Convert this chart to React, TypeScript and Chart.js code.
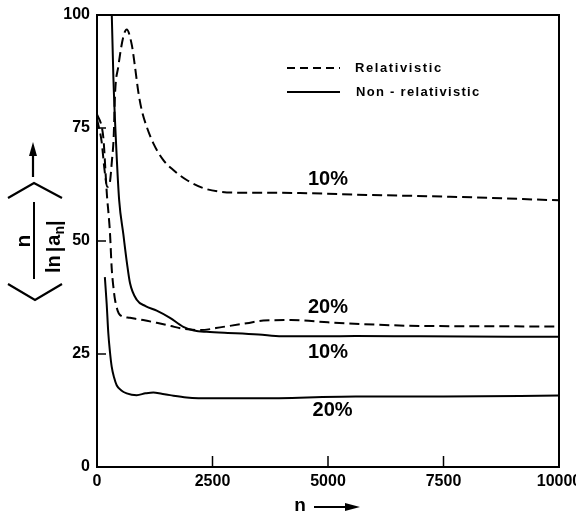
import React, { useEffect, useRef } from "react";
import { Chart, registerables } from "chart.js";

Chart.register(...registerables);

// ---- data (n values, <n/ln|a_n|> values) ----
const relativistic10N = [0, 100, 160, 220, 270, 325, 361, 390, 461, 570, 643, 751, 823, 894, 967, 1075, 1220, 1436, 1652, 1941, 2301, 2662, 3023, 3500, 4394, 5840, 7640, 10000];
const relativistic10Y = [77, 72, 66, 62, 62.5, 68, 73, 82.5, 88.6, 95.2, 96.8, 93.5, 88.5, 83, 79, 75.3, 71.6, 67.9, 65.7, 63.5, 61.7, 60.9, 60.7, 60.7, 60.6, 60.2, 59.8, 59];

const relativistic20N = [0, 108, 145, 180, 216, 250, 281, 318, 353, 390, 450, 500, 714, 1000, 1292, 1600, 1800, 2230, 2730, 3240, 3600, 4200, 5000, 5760, 7060, 10000];
const relativistic20Y = [78, 75, 72, 66, 60, 56, 51.8, 44, 40, 37, 34.5, 33.6, 33, 32.5, 31.9, 31.2, 30.7, 30.3, 31, 31.8, 32.4, 32.5, 32, 31.6, 31.2, 31.1];

const nonRel10N = [280, 320, 355, 420, 480, 570, 650, 714, 860, 1050, 1292, 1580, 1868, 2100, 2374, 3000, 3500, 4000, 4600, 5600, 7000, 10000];
const nonRel10Y = [120, 100, 86, 70, 59, 51.5, 45, 40.7, 37, 35.6, 34.6, 33, 31, 30.2, 29.9, 29.6, 29.3, 28.9, 28.9, 29, 28.9, 28.8];

const nonRel20N = [170, 210, 245, 280, 318, 370, 426, 520, 643, 860, 1050, 1220, 1400, 1580, 1940, 2500, 3500, 5600, 7500, 10000];
const nonRel20Y = [42, 36, 29.6, 25.5, 22.2, 19.8, 18.1, 17, 16.3, 15.9, 16.3, 16.5, 16.2, 15.9, 15.4, 15.2, 15.2, 15.6, 15.6, 15.8];

const xTicks = [0, 2500, 5000, 7500, 10000];
const yTicks = [0, 25, 50, 75, 100];

const curveLabels = ["10%", "20%", "10%", "20%"];
const curveLabelN = [5000, 5000, 5000, 5100];
const curveLabelY = [63.5, 35.3, 25.4, 12.6];

const legendLabels = ["Relativistic", "Non - relativistic"];

const FONT = "'Liberation Sans', Arial, sans-serif";

function pts(xs: number[], ys: number[]) {
  return xs.map((x, i) => ({ x, y: ys[i] }));
}

const framePlugin = {
  id: "framePlugin",
  afterDatasetsDraw(chart: any) {
    const { ctx, chartArea: a, scales } = chart;
    const xs = scales.x;
    const ys = scales.y;
    ctx.save();
    ctx.strokeStyle = "#000";
    ctx.lineWidth = 2;
    ctx.strokeRect(a.left, a.top, a.right - a.left, a.bottom - a.top);
    ctx.lineWidth = 1.5;
    xTicks.forEach((v) => {
      const p = xs.getPixelForValue(v);
      ctx.beginPath();
      ctx.moveTo(p, a.bottom);
      ctx.lineTo(p, a.bottom - 11);
      ctx.stroke();
    });
    yTicks.forEach((v) => {
      const p = ys.getPixelForValue(v);
      ctx.beginPath();
      ctx.moveTo(a.left, p);
      ctx.lineTo(a.left + 9, p);
      ctx.stroke();
    });

    // curve labels
    ctx.fillStyle = "#000";
    ctx.font = `bold 20px ${FONT}`;
    ctx.textAlign = "center";
    ctx.textBaseline = "middle";
    curveLabels.forEach((t, i) => {
      ctx.fillText(t, xs.getPixelForValue(curveLabelN[i]), ys.getPixelForValue(curveLabelY[i]));
    });

    // legend
    const lx0 = 287, lx1 = 340, ly = [68, 92];
    ctx.lineWidth = 2;
    ctx.setLineDash([8, 5]);
    ctx.beginPath();
    ctx.moveTo(lx0, ly[0]);
    ctx.lineTo(lx1, ly[0]);
    ctx.stroke();
    ctx.setLineDash([]);
    ctx.beginPath();
    ctx.moveTo(lx0, ly[1]);
    ctx.lineTo(lx1, ly[1]);
    ctx.stroke();
    ctx.font = `bold 13px ${FONT}`;
    (ctx as any).letterSpacing = "1.6px";
    ctx.textAlign = "left";
    ctx.fillText(legendLabels[0], 355, ly[0]);
    (ctx as any).letterSpacing = "1.3px";
    ctx.fillText(legendLabels[1], 356, ly[1]);
    (ctx as any).letterSpacing = "0px";
    ctx.restore();
  },
  afterDraw(chart: any) {
    const { ctx } = chart;
    ctx.save();
    ctx.fillStyle = "#000";
    ctx.strokeStyle = "#000";
    // x axis title: n ->
    ctx.font = `bold 19px ${FONT}`;
    ctx.textAlign = "center";
    ctx.textBaseline = "middle";
    ctx.fillText("n", 300, 506);
    ctx.lineWidth = 2;
    ctx.beginPath();
    ctx.moveTo(314, 507);
    ctx.lineTo(348, 507);
    ctx.stroke();
    ctx.beginPath();
    ctx.moveTo(360, 507);
    ctx.lineTo(345, 503);
    ctx.lineTo(345, 511);
    ctx.closePath();
    ctx.fill();

    // y axis title (rotated fraction with angle brackets)
    ctx.lineWidth = 2.2;
    ctx.beginPath();
    ctx.moveTo(33, 177);
    ctx.lineTo(33, 152);
    ctx.stroke();
    ctx.beginPath();
    ctx.moveTo(33, 142);
    ctx.lineTo(29, 156);
    ctx.lineTo(37, 156);
    ctx.closePath();
    ctx.fill();
    ctx.beginPath();
    ctx.moveTo(8, 198);
    ctx.lineTo(34, 183);
    ctx.lineTo(62, 198);
    ctx.stroke();
    ctx.beginPath();
    ctx.moveTo(8, 284);
    ctx.lineTo(35, 300);
    ctx.lineTo(62, 284);
    ctx.stroke();
    ctx.lineWidth = 2;
    ctx.beginPath();
    ctx.moveTo(34, 202);
    ctx.lineTo(34, 279);
    ctx.stroke();
    ctx.translate(40, 241);
    ctx.rotate(-Math.PI / 2);
    ctx.textBaseline = "alphabetic";
    ctx.textAlign = "center";
    ctx.font = `bold 21px ${FONT}`;
    ctx.fillText("n", 0, -10);
    ctx.textAlign = "left";
    let u = -32;
    const base = 20;
    ctx.font = `bold 20px ${FONT}`;
    ctx.fillText("ln", u, base);
    u += ctx.measureText("ln").width + 3;
    ctx.fillText("|", u, base + 1);
    u += ctx.measureText("|").width + 1;
    ctx.fillText("a", u, base);
    u += ctx.measureText("a").width;
    ctx.font = `bold 14px ${FONT}`;
    ctx.fillText("n", u, base + 4);
    u += ctx.measureText("n").width;
    ctx.font = `bold 20px ${FONT}`;
    ctx.fillText("|", u, base + 1);
    ctx.restore();
  },
};

export default function App() {
  const ref = useRef<HTMLCanvasElement | null>(null);

  useEffect(() => {
    document.body.style.margin = "0";
    if (!ref.current) return;
    const lineCommon = {
      borderColor: "#000",
      borderWidth: 2,
      pointRadius: 0,
      fill: false,
      cubicInterpolationMode: "monotone" as const,
    };
    const chart = new Chart(ref.current, {
      type: "line",
      data: {
        datasets: [
          { ...lineCommon, label: "Relativistic 10%", data: pts(relativistic10N, relativistic10Y), borderDash: [10, 5] },
          { ...lineCommon, label: "Relativistic 20%", data: pts(relativistic20N, relativistic20Y), borderDash: [10, 5] },
          { ...lineCommon, label: "Non-relativistic 10%", data: pts(nonRel10N, nonRel10Y) },
          { ...lineCommon, label: "Non-relativistic 20%", data: pts(nonRel20N, nonRel20Y) },
        ],
      },
      options: {
        animation: false,
        responsive: true,
        maintainAspectRatio: false,
        layout: { padding: { left: 0, right: 17, top: 15, bottom: 0 } },
        plugins: { legend: { display: false }, tooltip: { enabled: false }, title: { display: false } },
        scales: {
          x: {
            type: "linear",
            min: 0,
            max: 10000,
            afterBuildTicks: (s: any) => {
              s.ticks = xTicks.map((v) => ({ value: v }));
            },
            afterFit: (s: any) => {
              s.height = 51;
              s.paddingLeft = 0;
              s.paddingRight = 0;
            },
            grid: { display: false, drawTicks: false },
            border: { display: false },
            ticks: {
              color: "#000",
              padding: 5,
              maxRotation: 0,
              autoSkip: false,
              font: { family: FONT, weight: "bold", size: 16 },
              callback: (v: any) => String(v),
            },
          },
          y: {
            type: "linear",
            min: 0,
            max: 100,
            afterBuildTicks: (s: any) => {
              s.ticks = yTicks.map((v) => ({ value: v }));
            },
            afterFit: (s: any) => {
              s.width = 97;
              s.paddingTop = 0;
              s.paddingBottom = 0;
            },
            grid: { display: false, drawTicks: false },
            border: { display: false },
            ticks: {
              color: "#000",
              padding: 7,
              autoSkip: false,
              font: { family: FONT, weight: "bold", size: 16 },
              callback: (v: any) => String(v),
            },
          },
        },
      },
      plugins: [framePlugin],
    });
    return () => chart.destroy();
  }, []);

  return (
    <div style={{ position: "absolute", left: 0, top: 0, width: 576, height: 518 }}>
      <canvas ref={ref} />
    </div>
  );
}
